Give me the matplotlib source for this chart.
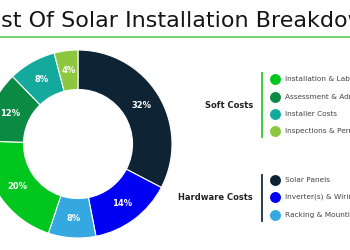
import matplotlib
matplotlib.use("Agg")
import matplotlib.pyplot as plt
import numpy as np

# slices, clockwise from 12 o'clock
labels = ["Solar Panels", "Inverter(s) & Wiring", "Racking & Mounting",
          "Installation & Labor", "Assessment & Administration",
          "Installer Costs", "Inspections & Permits"]
values = [32, 14, 8, 20, 12, 8, 4]
colors = ["#0e2434", "#0000f2", "#35a8e2", "#00c61e", "#0b8a44", "#14a99d", "#8dc63f"]

soft_items = ["Installation & Labor", "Assessment & Administration",
              "Installer Costs", "Inspections & Permits"]
hard_items = ["Solar Panels", "Inverter(s) & Wiring", "Racking & Mounting"]
title = "Cost Of Solar Installation Breakdown"

fig = plt.figure(figsize=(3.5, 2.5), dpi=100)
fig.patch.set_facecolor("white")

# overlay in pixel coordinates for title + legend
bg = fig.add_axes([0, 0, 1, 1])
bg.set_xlim(0, 350)
bg.set_ylim(250, 0)
bg.axis("off")

bg.text(176, 21, title, ha="center", va="center", fontsize=16,
        color="#151515", family="DejaVu Sans")
bg.plot([0, 350], [37, 37], color="#5ccb5c", lw=1.2)

# donut
ax = fig.add_axes([(78 - 94) / 350, (250 - 144 - 94) / 250, 188 / 350, 188 / 250])
wedges, texts = ax.pie(values, colors=colors, startangle=90, counterclock=False,
                       radius=1, wedgeprops=dict(width=0.42, edgecolor="white", linewidth=0.8))
for v, w in zip(values, wedges):
    mid = np.deg2rad((w.theta1 + w.theta2) / 2)
    r = 0.79
    ax.text(r * np.cos(mid), r * np.sin(mid), f"{v}%", ha="center", va="center",
            color="white", fontsize=6, fontweight="bold")
ax.set_xlim(-1, 1)
ax.set_ylim(-1, 1)
ax.axis("off")

# legend groups
def group(name, items, ys, bar_col, bar_y0, bar_y1, label_y):
    bg.text(253, label_y, name, ha="right", va="center", fontsize=6,
            fontweight="bold", color="#222222")
    bg.plot([262, 262], [bar_y0, bar_y1], color=bar_col, lw=1.3)
    for it, y in zip(items, ys):
        c = colors[labels.index(it)]
        bg.scatter([275], [y], s=62, color=c, zorder=3, linewidths=0)
        bg.text(285, y, it, ha="left", va="center", fontsize=5.3, color="#444444")

group("Soft Costs", soft_items, [79, 97, 114, 131], "#2fc82f", 73, 137, 106)
group("Hardware Costs", hard_items, [180, 197, 215], "#1c2b3a", 175, 221, 198)

fig.savefig("out.png", dpi=100)
